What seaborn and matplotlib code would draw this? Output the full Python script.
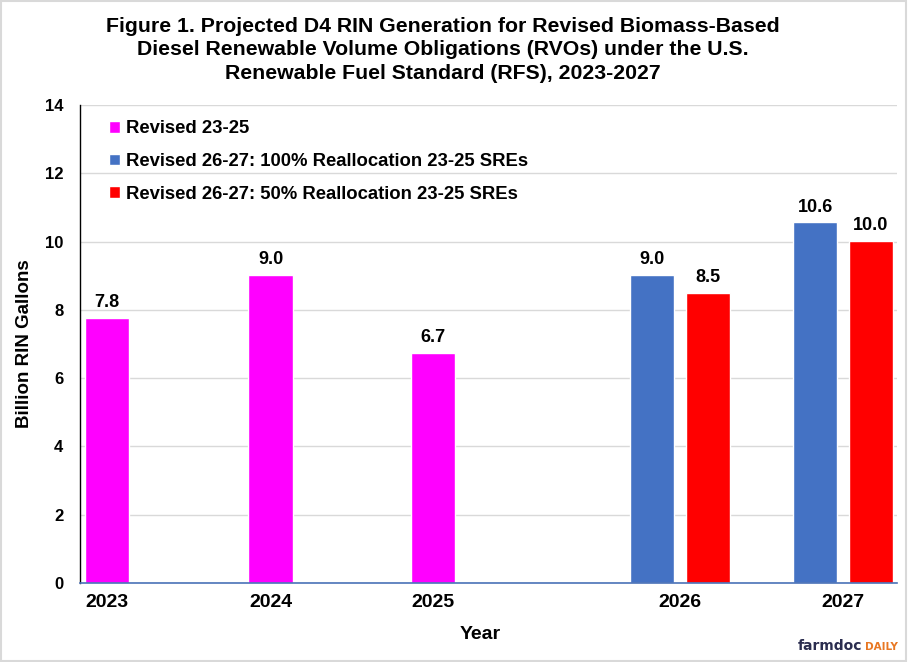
import numpy as np
import pandas as pd
import matplotlib.pyplot as plt
from matplotlib.patches import Rectangle
import seaborn as sns

# Data
years = ["2023", "2024", "2025", "2026", "2027"]
series_names = [
    "Revised 23-25",
    "Revised 26-27: 100% Reallocation 23-25 SREs",
    "Revised 26-27: 50% Reallocation 23-25 SREs",
]
revised_23_25 = [7.76, 9.03, 6.74]      # 2023-2025
realloc_100 = [9.03, 10.56]             # 2026-2027
realloc_50 = [8.49, 10.02]              # 2026-2027

# Layout (axis units): uneven category spacing as in the original
year_center = [0.165, 1.165, 2.16, 3.667, 4.665]
pair_offset = 0.17
bar_w = 0.27
colors = ["#FF00FF", "#4472C4", "#FF0000"]

rows = []
for i, v in enumerate(revised_23_25):
    rows.append((years[i], series_names[0], v, year_center[i]))
for j, (a, b) in enumerate(zip(realloc_100, realloc_50)):
    c = year_center[3 + j]
    rows.append((years[3 + j], series_names[1], a, c - pair_offset))
    rows.append((years[3 + j], series_names[2], b, c + pair_offset))
df = pd.DataFrame(rows, columns=["year", "series", "value", "pos"])

sns.set_theme(style="white")
plt.rcParams["font.family"] = ["Liberation Sans", "DejaVu Sans"]
plt.rcParams["font.weight"] = "bold"
plt.rcParams["text.color"] = "black"
plt.rcParams["axes.labelcolor"] = "black"

fig, ax = plt.subplots(figsize=(9.11, 6.62), dpi=100)
fig.subplots_adjust(left=0.0878, right=0.985, bottom=0.1193, top=0.8414)

min_gap = np.diff(np.sort(df["pos"].unique())).min()
sns.barplot(data=df, x="pos", y="value", hue="series", hue_order=series_names,
            palette=colors, native_scale=True, dodge=False, width=bar_w / min_gap,
            saturation=1, errorbar=None, ax=ax)

for cont in ax.containers:
    ax.bar_label(cont, fmt="%.1f", padding=5, fontsize=13, fontweight="bold", color="black")

ax.set_xlim(0, 4.997)
ax.set_ylim(0, 14)
ax.set_yticks(np.arange(0, 15, 2))
ax.set_xticks(year_center)
ax.set_xticklabels(years)
ax.tick_params(axis="both", length=0, colors="black")
ax.tick_params(axis="y", pad=12, labelsize=12)
ax.tick_params(axis="x", pad=8, labelsize=14)
for lab in ax.get_xticklabels() + ax.get_yticklabels():
    lab.set_fontweight("bold")

ax.grid(axis="y", color="#D9D9D9", lw=1)
ax.set_axisbelow(True)
for s in ["top", "right"]:
    ax.spines[s].set_visible(False)
ax.spines["left"].set_color("black")
ax.spines["left"].set_linewidth(1)
ax.spines["bottom"].set_color("#4A72B8")
ax.spines["bottom"].set_linewidth(1.2)

ax.set_ylabel("Billion RIN Gallons", fontsize=13.5, fontweight="bold")
ax.set_xlabel("Year", fontsize=14, fontweight="bold")
ax.yaxis.set_label_coords(-0.058, 0.5)
ax.xaxis.set_label_coords(0.49, -0.09)

ax.legend(loc="upper left", bbox_to_anchor=(0.0355, 0.968), frameon=False,
          borderaxespad=0, borderpad=0, handlelength=0.6, handleheight=0.6,
          handletextpad=0.3, labelspacing=0.85, prop={"weight": "bold", "size": 13.3})

fig.text(0.486, 0.975, "Figure 1. Projected D4 RIN Generation for Revised Biomass-Based\n"
         "Diesel Renewable Volume Obligations (RVOs) under the U.S.\n"
         "Renewable Fuel Standard (RFS), 2023-2027",
         ha="center", va="top", fontsize=15.3, fontweight="bold", linespacing=1.3)

# farmdocDAILY mark
fig.text(0.876, 0.018, "farmdoc", ha="left", va="baseline", fontsize=10,
         fontweight="bold", color="#2B2D4F", family="DejaVu Sans")
fig.text(0.949, 0.018, "DAILY", ha="left", va="baseline", fontsize=7.5,
         fontweight="bold", color="#E87722", family="DejaVu Sans")

fig.patches.append(Rectangle((0.001, 0.002), 0.993, 0.996, transform=fig.transFigure,
                             fill=False, edgecolor="#D9D9D9", lw=1.5))

plt.savefig("out.png", dpi=100)
